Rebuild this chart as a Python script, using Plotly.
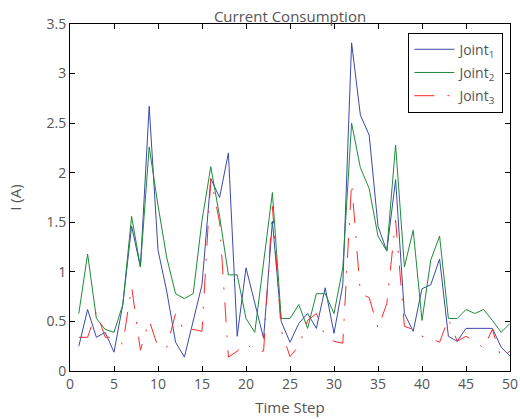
import plotly.graph_objects as go

time_step = list(range(1, 51))
joint1 = [0.25, 0.62, 0.34, 0.39, 0.19, 0.67, 1.46, 1.05, 2.67, 1.22,
          0.80, 0.29, 0.14, 0.50, 0.87, 1.94, 1.75, 2.20, 0.35, 1.04,
          0.69, 0.33, 1.51, 0.50, 0.29, 0.48, 0.58, 0.43, 0.84, 0.38,
          0.87, 3.31, 2.58, 2.38, 1.46, 1.21, 1.93, 0.58, 0.40, 0.83,
          0.87, 1.13, 0.35, 0.30, 0.43, 0.43, 0.43, 0.43, 0.24, 0.15]
joint2 = [0.58, 1.18, 0.53, 0.42, 0.39, 0.67, 1.56, 1.05, 2.26, 1.67,
          1.14, 0.78, 0.73, 0.78, 1.52, 2.06, 1.56, 0.97, 0.97, 0.53,
          0.39, 1.10, 1.80, 0.53, 0.53, 0.67, 0.43, 0.78, 0.78, 0.58,
          1.04, 2.50, 2.05, 1.84, 1.36, 1.21, 2.28, 1.05, 1.42, 0.51,
          1.12, 1.36, 0.53, 0.53, 0.62, 0.58, 0.62, 0.51, 0.39, 0.48]
joint3 = [0.34, 0.34, 0.60, 0.34, 0.34, 0.27, 0.85, 0.21, 0.51, 0.24,
          0.24, 0.58, 0.40, 0.42, 0.40, 1.94, 1.50, 0.14, 0.20, 0.28,
          0.20, 0.20, 1.66, 0.41, 0.145, 0.25, 0.51, 0.58, 0.35, 0.30,
          0.28, 1.90, 0.78, 0.74, 0.43, 0.68, 1.52, 0.45, 0.42, 0.35,
          0.33, 0.29, 0.53, 0.30, 0.35, 0.30, 0.23, 0.42, 0.13, 0.20]

x_ticks = [0, 5, 10, 15, 20, 25, 30, 35, 40, 45, 50]
y_ticks = [0, 0.5, 1, 1.5, 2, 2.5, 3, 3.5]
y_tick_text = ["0", "0.5", "1", "1.5", "2", "2.5", "3", "3.5"]

font_family = "Open Sans, Noto Sans, DejaVu Sans, sans-serif"
text_color = "#555555"

fig = go.Figure()
fig.add_trace(go.Scatter(x=time_step, y=joint1, mode="lines", name="Joint<sub>1</sub>",
                         legendgroup="g1",
                         line=dict(color="#3a4aa6", width=1)))
fig.add_trace(go.Scatter(x=time_step, y=joint2, mode="lines", name="Joint<sub>2</sub>",
                         legendgroup="g2",
                         line=dict(color="#1e8a3c", width=1)))
fig.add_trace(go.Scatter(x=time_step, y=joint3, mode="lines", name="Joint<sub>3</sub>",
                         legendgroup="g3",
                         line=dict(color="#ff2a2a", width=1, dash="20px,13px,2px,13px")))

fig.update_layout(
    width=520, height=419,
    margin=dict(l=70, r=10, t=24, b=48),
    paper_bgcolor="white", plot_bgcolor="white",
    font=dict(family=font_family, size=14, color=text_color),
    title=dict(text="Current Consumption", x=(440 / 2 + 70) / 520, xanchor="center",
               y=1 - 16.5 / 419, yanchor="middle", yref="container",
               font=dict(size=15, color=text_color), automargin=False),
    showlegend=True,
    legend=dict(x=0.985, y=0.975, xanchor="right", yanchor="top",
                bgcolor="white", bordercolor="black", borderwidth=1,
                font=dict(size=14, color=text_color),
                tracegroupgap=2, itemwidth=40),
    xaxis=dict(range=[0, 50], tickvals=x_ticks, ticks="inside", ticklen=5,
               showline=True, linecolor="black", linewidth=1, mirror="ticks",
               showgrid=False, zeroline=False, tickcolor="black", automargin=False,
               title=dict(text="Time Step", standoff=10, font=dict(size=15)),
               tickfont=dict(size=14)),
    yaxis=dict(range=[0, 3.5], tickvals=y_ticks, ticktext=y_tick_text,
               ticks="inside", ticklen=5, automargin=False,
               showline=True, linecolor="black", linewidth=1, mirror="ticks",
               showgrid=False, zeroline=False, tickcolor="black",
               title=dict(text="I (A)", standoff=21, font=dict(size=15)),
               tickfont=dict(size=14)),
)

# remove the browser's default page margin so the figure fills the window
fig.write_html("out.html", config={"displayModeBar": False},
               post_script="document.body.style.margin='0';")
